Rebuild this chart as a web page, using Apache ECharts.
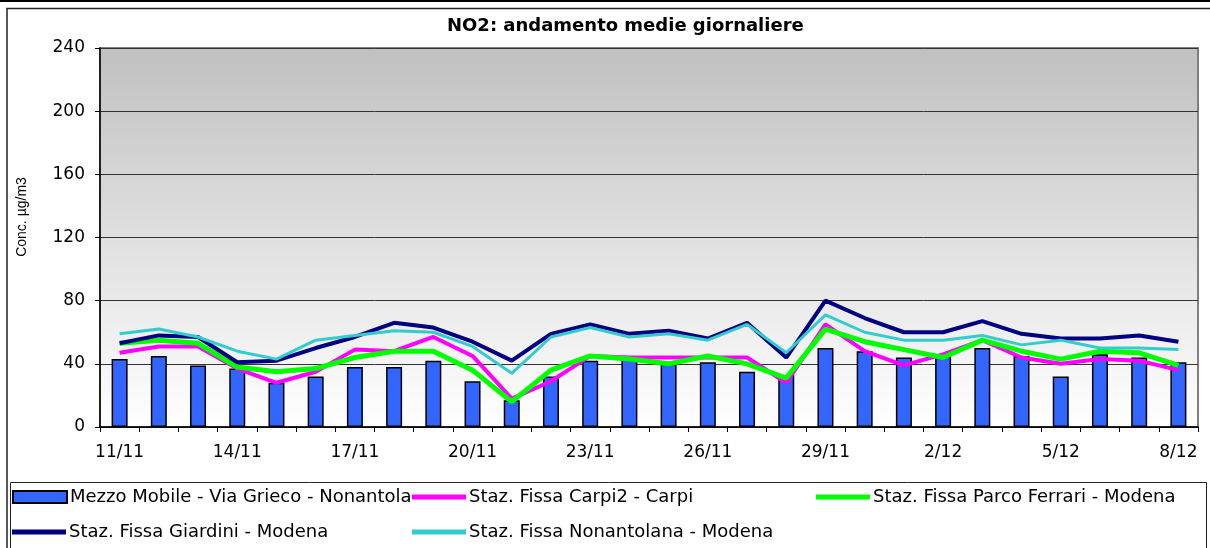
<!DOCTYPE html>
<html>
<head>
<meta charset="utf-8">
<script src="https://cdn.jsdelivr.net/npm/echarts@6/dist/echarts.min.js"></script>
<style>
  html, body { margin: 0; padding: 0; background: #fff; }
  #main { width: 1210px; height: 548px; }
</style>
</head>
<body>
<div id="main"></div>
<script>
// giorni dall'11/11 all'8/12
var days = ['11/11', '12/11', '13/11', '14/11', '15/11', '16/11', '17/11', '18/11', '19/11', '20/11',
  '21/11', '22/11', '23/11', '24/11', '25/11', '26/11', '27/11', '28/11', '29/11', '30/11',
  '1/12', '2/12', '3/12', '4/12', '5/12', '6/12', '7/12', '8/12'];

var mezzoMobile = [43, 45, 39, 37, 28, 32, 38, 38, 42, 29, 17, 32, 42, 43, 40, 41, 35, 33, 50, 48, 44, 45, 50, 45, 32, 46, 44, 41];
var carpi = [47, 51, 51, 37, 28, 35, 49, 48, 57, 45, 18, 29, 45, 44, 44, 44, 44, 28, 65, 48, 39, 46, 55, 44, 40, 43, 42, 36];
var parcoFerrari = [53, 55, 53, 38, 35, 37, 44, 48, 48, 36, 16, 36, 45, 43, 40, 45, 40, 31, 62, 54, 49, 44, 55, 48, 43, 48, 47, 39];
var giardini = [53, 58, 57, 41, 42, 50, 57, 66, 63, 54, 42, 59, 65, 59, 61, 56, 66, 44, 80, 69, 60, 60, 67, 59, 56, 56, 58, 54];
var nonantolana = [59, 62, 57, 48, 43, 55, 58, 61, 60, 51, 34, 57, 63, 57, 59, 55, 65, 47, 71, 60, 55, 55, 58, 52, 55, 50, 50, 49];

var yTicks = [0, 40, 80, 120, 160, 200, 240];

var names = [
  'Mezzo Mobile - Via Grieco - Nonantola',
  'Staz. Fissa Carpi2 - Carpi',
  'Staz. Fissa Parco Ferrari - Modena',
  'Staz. Fissa Giardini - Modena',
  'Staz. Fissa Nonantolana - Modena'
];

var font = 'DejaVu Sans';
var myChart = echarts.init(document.getElementById('main'));

function legendItem(name, left, top, isBar) {
  return {
    data: [{ name: name, icon: 'rect' }],
    left: left,
    top: top,
    padding: 0,
    itemWidth: 54,
    itemHeight: isBar ? 12 : 5,
    textStyle: { fontFamily: font, fontSize: 18, color: '#000', padding: [0, 0, 0, -2] },
    selectedMode: false
  };
}

var option = {
  animation: false,
  backgroundColor: '#fff',
  title: {
    text: 'NO2: andamento medie giornaliere',
    left: 447,
    top: 17,
    padding: 0,
    textStyle: { fontFamily: font, fontSize: 18, fontWeight: 'bold', color: '#000' }
  },
  graphic: [
    { type: 'line', shape: { x1: 0, y1: 1, x2: 1210, y2: 1 }, style: { stroke: '#000', lineWidth: 2 }, z: 100 },
    { type: 'rect', shape: { x: 7, y: 8.5, width: 1220, height: 600 }, style: { fill: 'none', stroke: '#222', lineWidth: 1.5 }, z: -10 },
    { type: 'rect', shape: { x: 10.5, y: 482.5, width: 1196, height: 80 }, style: { fill: '#fff', stroke: '#222', lineWidth: 1 }, z: -5 },
    {
      type: 'text', x: 22, y: 217, rotation: Math.PI / 2,
      style: { text: 'Conc. µg/m3', fontFamily: 'Liberation Sans', fontSize: 14, fill: '#000', align: 'center', verticalAlign: 'middle' }
    }
  ],
  legend: [
    legendItem(names[0], 12, 488, true),
    legendItem(names[1], 412, 488, false),
    legendItem(names[2], 816, 488, false),
    legendItem(names[3], 12, 523, false),
    legendItem(names[4], 412, 523, false)
  ],
  grid: {
    left: 100,
    right: 12,
    top: 48,
    bottom: 121,
    show: true,
    borderColor: '#808080',
    borderWidth: 2,
    backgroundColor: new echarts.graphic.LinearGradient(0, 0, 0, 1, [
      { offset: 0, color: '#c0c0c0' },
      { offset: 1, color: '#ffffff' }
    ])
  },
  xAxis: {
    type: 'category',
    data: days,
    boundaryGap: true,
    axisLine: { lineStyle: { color: '#000', width: 1.5 } },
    axisTick: { show: true, interval: 0, length: 5, lineStyle: { color: '#000' } },
    axisLabel: { interval: 2, margin: 17, fontFamily: font, fontSize: 17, color: '#000' },
    splitLine: { show: false }
  },
  yAxis: {
    type: 'value',
    min: yTicks[0],
    max: yTicks[yTicks.length - 1],
    interval: 40,
    axisLine: { show: true, lineStyle: { color: '#000', width: 1.5 } },
    axisTick: { show: true, length: 5, lineStyle: { color: '#000' } },
    axisLabel: { margin: 15, fontFamily: font, fontSize: 17, color: '#000' },
    splitLine: { show: true, lineStyle: { color: '#333', width: 1 } }
  },
  series: [
    {
      name: names[0],
      type: 'bar',
      data: mezzoMobile,
      barWidth: 16,
      itemStyle: { color: '#3366ff', borderColor: '#000', borderWidth: 1.5 }
    },
    {
      name: names[1], type: 'line', data: carpi, symbol: 'none',
      lineStyle: { color: '#ff00ff', width: 4 }, itemStyle: { color: '#ff00ff' }
    },
    {
      name: names[2], type: 'line', data: parcoFerrari, symbol: 'none',
      lineStyle: { color: '#00ff00', width: 5 }, itemStyle: { color: '#00ff00' }
    },
    {
      name: names[3], type: 'line', data: giardini, symbol: 'none',
      lineStyle: { color: '#000080', width: 4 }, itemStyle: { color: '#000080' }
    },
    {
      name: names[4], type: 'line', data: nonantolana, symbol: 'none',
      lineStyle: { color: '#33cccc', width: 3 }, itemStyle: { color: '#33cccc' }
    }
  ]
};

myChart.setOption(option);
window.addEventListener('resize', function () {
  myChart.resize();
});
</script>
</body>
</html>
